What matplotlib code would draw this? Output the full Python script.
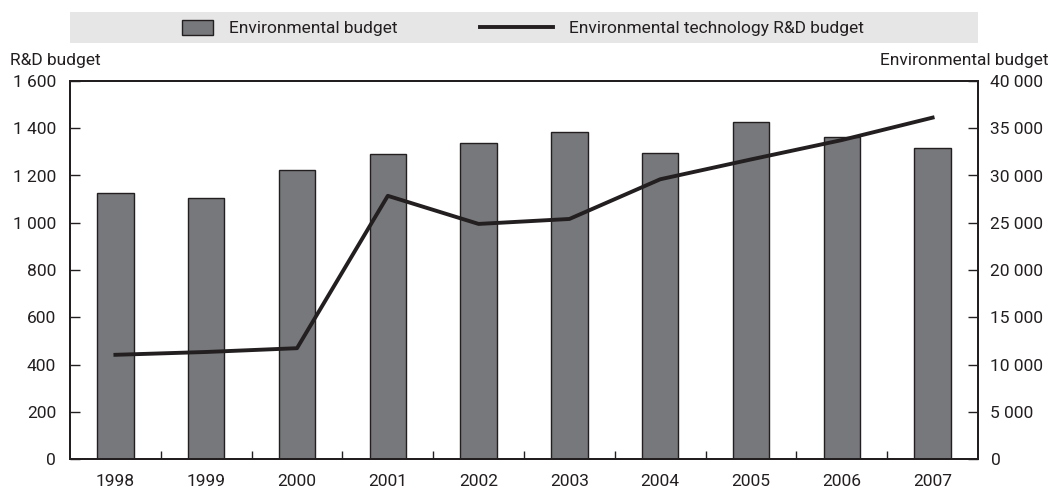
import numpy as np
import matplotlib.pyplot as plt
from matplotlib.patches import Rectangle
from matplotlib.lines import Line2D

plt.rcParams['font.family'] = ['Roboto', 'DejaVu Sans']

years = ['1998', '1999', '2000', '2001', '2002', '2003', '2004', '2005', '2006', '2007']
env_budget = [28180, 27650, 30600, 32280, 33470, 34570, 32350, 35630, 34040, 32880]
rd_budget = [441, 453, 469, 1114, 995, 1016, 1184, 1268, 1350, 1445]

fig = plt.figure(figsize=(10.56, 4.9), dpi=100)
ax = fig.add_axes([70 / 1056, 1 - 459 / 490, 908 / 1056, 378 / 490])
ax2 = ax.twinx()

x = np.arange(len(years))
bg = '#ebebeb'
dark = '#231f20'

# bars on right axis, line on left axis
ax2.bar(x, env_budget, width=0.4, color='#77787b', edgecolor=dark, linewidth=1.0, zorder=2)
ax2.set_ylim(0, 40000)
ax2.set_zorder(1)
ax.set_zorder(2)
ax.patch.set_visible(False)
ax2.set_facecolor(bg)

ax.plot(x, rd_budget, color=dark, linewidth=2.8, zorder=3)
ax.set_ylim(0, 1600)
ax.set_xlim(-0.5, len(years) - 0.5)

# white grid behind the bars
for yv in range(5000, 40000, 5000):
    ax2.axhline(yv, color='white', linewidth=1.2, zorder=0)
for xv in np.arange(0.5, len(years) - 1, 1):
    ax2.axvline(xv, color='white', linewidth=1.2, zorder=0)

ax.set_yticks(range(0, 1601, 200))
ax.set_yticklabels([f'{v:,}'.replace(',', ' ') for v in range(0, 1601, 200)])
ax2.set_yticks(range(0, 40001, 5000))
ax2.set_yticklabels([f'{v:,}'.replace(',', ' ') for v in range(0, 40001, 5000)])

ax.set_xticks(x)
ax.set_xticklabels(years)
ax.set_xticks(np.arange(0.5, len(years) - 1, 1), minor=True)
ax.tick_params(axis='x', which='major', length=0, pad=11, labelsize=12.5, colors=dark)
ax.tick_params(axis='x', which='minor', direction='in', length=6, width=1, color=dark)
ax.tick_params(axis='y', direction='in', length=7, width=1, color=dark, labelcolor=dark,
               labelsize=12.5, pad=10)
ax2.tick_params(axis='y', direction='in', length=7, width=1, color=dark, labelcolor=dark,
                labelsize=12.5, pad=9)

for a in (ax, ax2):
    for s in a.spines.values():
        s.set_color(dark)
        s.set_linewidth(1.4)

fig.text(10 / 1056, 1 - 61 / 490, 'R&D budget', fontsize=12.5, ha='left', va='center', color=dark)
fig.text(1048 / 1056, 1 - 61 / 490, 'Environmental budget', fontsize=12.5, ha='right', va='center', color=dark)

# legend band, drawn by hand to place the two entries like the original
fig.patches.append(Rectangle((70 / 1056, 1 - 43 / 490), 908 / 1056, 31 / 490,
                             transform=fig.transFigure, facecolor='#e6e6e7', edgecolor='none', zorder=0))
fig.patches.append(Rectangle((182 / 1056, 1 - 35 / 490), 31 / 1056, 15 / 490,
                             transform=fig.transFigure, facecolor='#77787b', edgecolor=dark,
                             linewidth=1.0))
fig.lines.append(Line2D([480 / 1056, 553 / 1056], [1 - 27.5 / 490, 1 - 27.5 / 490],
                        transform=fig.transFigure, color=dark, linewidth=2.8))
fig.text(229 / 1056, 1 - 28 / 490, 'Environmental budget', fontsize=12.5, ha='left', va='center', color=dark)
fig.text(569 / 1056, 1 - 28 / 490, 'Environmental technology R&D budget', fontsize=12.5,
         ha='left', va='center', color=dark)

plt.savefig('out.png', dpi=100)
